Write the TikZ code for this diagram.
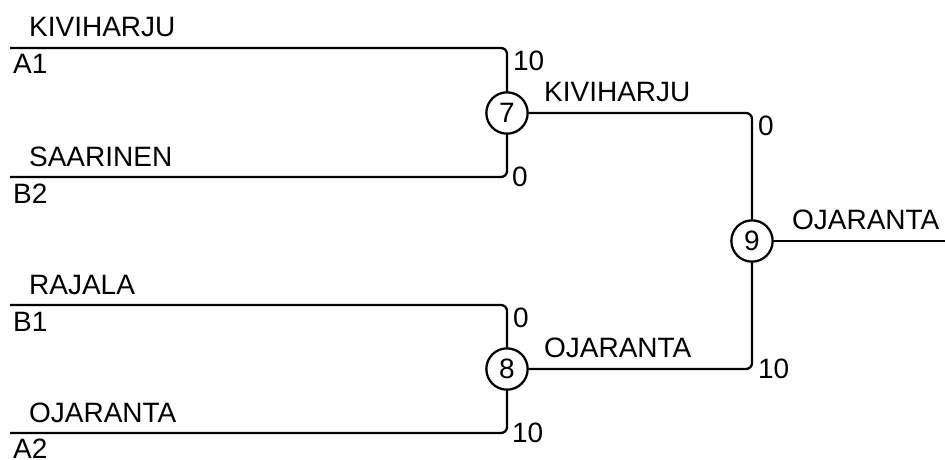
\documentclass[tikz,border=0pt]{standalone}
\usepackage{fontspec}
\setmainfont{Liberation Sans}
\usetikzlibrary{positioning}

\begin{document}
\begin{tikzpicture}[x=0.75pt,y=-0.75pt,font=\fontsize{21}{25}\selectfont,
                    every path/.style={line width=1.7pt},
                    match/.style={circle,draw,minimum size=31pt,inner sep=0pt},
                    team/.style={anchor=base west,inner sep=0pt},
                    score/.style={inner sep=0pt}]
\useasboundingbox (0,0) rectangle (945,460);

\coordinate (a1) at (10,48);
\coordinate (b2) at (10,177);
\coordinate (b1) at (10,305);
\coordinate (a2) at (10,433);
\coordinate (out) at (945,241);

\node[match] (m7) at (507,113) {7};
\node[match] (m8) at (507,369) {8};
\node[match] (m9) at (752,241) {9};

\draw[rounded corners=4.5pt] (a1) -| (m7);
\draw[rounded corners=4.5pt] (b2) -| (m7);
\draw[rounded corners=4.5pt] (b1) -| (m8);
\draw[rounded corners=4.5pt] (a2) -| (m8);
\draw[rounded corners=4.5pt] (m7) -| (m9);
\draw[rounded corners=4.5pt] (m8) -| (m9);
\draw (m9) -- (out);

\node[team] (ta1) at (28,37) {KIVIHARJU};
\node[team] (la1) at (12,74) {A1};
\node[team] (tb2) at (28,166) {SAARINEN};
\node[team] (lb2) at (12,203) {B2};
\node[team] (tb1) at (28,294) {RAJALA};
\node[team] (lb1) at (12,331) {B1};
\node[team] (ta2) at (28,422) {OJARANTA};
\node[team] (la2) at (12,458) {A2};

\node[team] (w7) at (543,101) {KIVIHARJU};
\node[team] (w8) at (543,357) {OJARANTA};
\node[team] (w9) at (791,229) {OJARANTA};

\node[score,anchor=north west] (sa1) at (512,50) {10};
\node[score,anchor=west] (sb2) at (511,177) {0};
\node[score,anchor=north west] (sb1) at (512,307) {0};
\node[score,anchor=west] (sa2) at (511,433) {10};
\node[score,anchor=north west] (s7) at (757,115) {0};
\node[score,anchor=west] (s8) at (757,369) {10};

\end{tikzpicture}
\end{document}
